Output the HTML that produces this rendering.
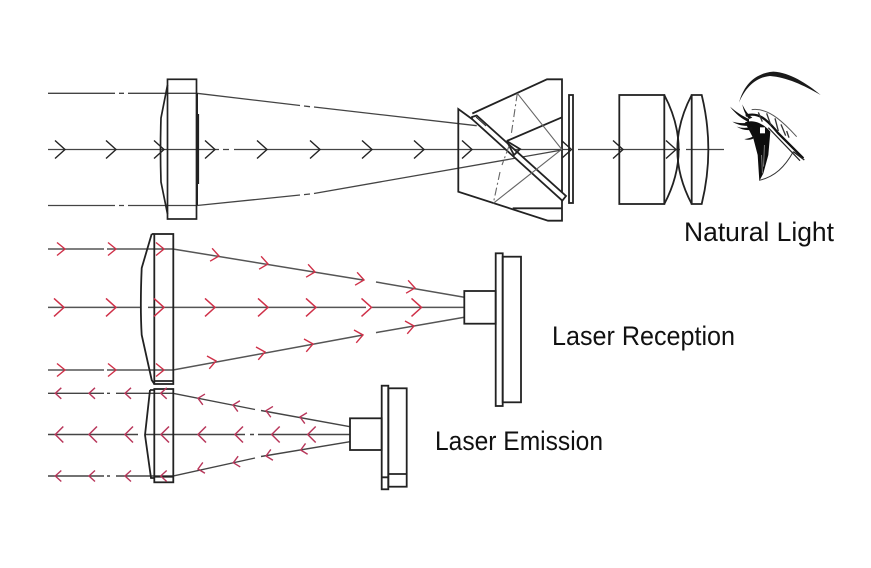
<!DOCTYPE html>
<html><head><meta charset="utf-8"><style>
html,body{margin:0;padding:0;background:#fff;width:871px;height:568px;overflow:hidden}
svg{display:block;filter:blur(0.35px)}
text{font-family:"Liberation Sans",sans-serif;font-size:27px;fill:#111}
</style></head><body>
<svg width="871" height="568" viewBox="0 0 871 568" xmlns="http://www.w3.org/2000/svg" fill="none">
<defs>
<path id="k" d="M-10,-9L0,0L-10,9" stroke="#222" stroke-width="1.4" fill="none"/>
<path id="r" d="M-8,-6.5L0,0L-8,6.5" stroke="#cf3048" stroke-width="1.4" fill="none"/>
<path id="R" d="M-10,-9L0,0L-10,9" stroke="#cf3048" stroke-width="1.5" fill="none"/>
<path id="e" d="M6,-5.5L0,0L6,5.5" stroke="#b8365a" stroke-width="1.4" fill="none"/>
<path id="E" d="M8,-8L0,0L8,8" stroke="#b8365a" stroke-width="1.5" fill="none"/>
</defs>

<!-- Natural light rays -->
<g stroke="#444" stroke-width="1.3">
<path d="M48,93.3H115M119,93.3H124M128,93.3H197L300,105.5M304,106L310,106.7M314,107L476.7,125.7"/>
<path d="M48,205.5H115M119,205.5H124M128,205.5H197L300,195M304,194.6L310,194M314,193.5L562,150"/>
<path d="M48,149.5H219M223,149.5H229M234,149.5H570M578,149.5H680M686,149.5H724"/>
</g>
<use href="#k" transform="translate(65,149.5)"/><use href="#k" transform="translate(116,149.5)"/>
<use href="#k" transform="translate(164,149.5)"/><use href="#k" transform="translate(215,149.5)"/>
<use href="#k" transform="translate(267,149.5)"/><use href="#k" transform="translate(320,149.5)"/>
<use href="#k" transform="translate(372,149.5)"/><use href="#k" transform="translate(424,149.5)"/>
<use href="#k" transform="translate(472,149.5)"/><use href="#k" transform="translate(571.5,149.5)"/>
<use href="#k" transform="translate(623,149.5)"/><use href="#k" transform="translate(676,149.5)"/>

<!-- Objective lens top -->
<g stroke="#222" stroke-width="1.7">
<rect x="167.5" y="79.3" width="29" height="139.7"/>
<path d="M167.5,85L161,118Q160,150 161,182L167.5,214"/>
<path d="M198,114V184" stroke-width="2.2"/>
<path d="M197,93V115M197,184V205" stroke-width="2"/>
</g>

<!-- Prism -->
<g stroke="#222" stroke-width="1.8">
<path d="M472.3,113.5L547,79.3H562V220.7H548L458.3,191.7V109L472,119"/>
<path d="M472,117L476.7,115.5L566,196L562.3,200.7L472,119Z" fill="#fff"/>
<path d="M476,117L486,126" stroke-width="1"/>
<path d="M506.7,141L562,117.3M506.7,141L520,149L514,155L506.7,141"/>
<path d="M512.7,208.3H562"/>
<rect x="569" y="95" width="4" height="108"/>
</g>
<g stroke="#666" stroke-width="1.1">
<path d="M517.3,93.3L561.7,149.3L493.3,203.3"/>
<path d="M517.3,93.3L511,136M509,146L502,165M500,172L493.3,203.3" stroke-dasharray="8 3 2 3"/>
</g>

<!-- Eyepiece lenses -->
<g stroke="#222" stroke-width="1.8">
<rect x="619.3" y="95" width="45" height="109"/>
<path d="M664.3,95Q693,149.5 664.3,204"/>
<path d="M691.7,95Q663,149.5 691.7,204"/>
<path d="M691.7,95H701.7Q715,149.5 701.7,204H691.7Z"/>
</g>

<!-- Eyebrow -->
<g transform="translate(600,60) scale(0.3333)">
<path d="M417,128C430,80 460,40 520,35C570,38 620,70 662,105C610,75 560,52 510,48C465,52 435,85 417,128Z" fill="#1a1a1a"/>
</g>
<!-- Eye -->
<g transform="translate(725,95) scale(0.3333)">
<path d="M60,82C85,72 115,85 136,110L130,180L115,235L103,258L98,180L85,130Z" fill="#0d0d0d"/>
<rect x="105" y="97" width="15" height="18" fill="#fff"/>
<path d="M118,150L116,215M110,180L112,235" stroke="#aaa" stroke-width="2"/>
<path d="M15,35C35,52 50,62 72,72L72,82C50,72 30,55 15,35Z" fill="#111"/>
<path d="M22,80C40,85 55,86 72,82L72,92C55,94 38,90 22,80Z" fill="#111"/>
<path d="M35,95C50,100 65,100 82,95L82,104C65,108 50,104 35,95Z" fill="#111"/>
<path d="M58,132C70,131 80,128 90,120L90,128C80,135 68,136 58,132Z" fill="#111"/>
<path d="M52,28C60,45 68,58 82,68L72,72C62,60 55,45 52,28Z" fill="#111"/>
<path d="M62,62C100,50 125,72 160,115L235,190" stroke="#111" stroke-width="7"/>
<path d="M130,98L172,142L225,197" stroke="#222" stroke-width="3.5"/>
<path d="M80,44C125,38 165,70 215,125" stroke="#555" stroke-width="3"/>
<path d="M100,52L112,80M125,55L138,92M150,70L160,108M168,88L182,122M185,108L192,128" stroke="#333" stroke-width="4"/>
<path d="M103,256C150,245 180,215 205,170" stroke="#333" stroke-width="3"/>
<path d="M205,170L238,195" stroke="#222" stroke-width="4"/>
</g>

<!-- Laser reception -->
<g stroke="#555" stroke-width="1.5">
<path d="M48,249H104M107,249H173L363,280M376,282L464.3,297.3"/>
<path d="M48,307.4H140M148,307.4H366M372,307.4H464"/>
<path d="M48,370H104M107,370H173L363,335M376,332.6L464.3,317.3"/>
</g>
<g stroke="#222" stroke-width="1.8">
<rect x="154.3" y="234" width="19" height="150"/>
<path d="M154.3,381H173.3"/>
<path d="M151.7,234L141.7,268Q140,307 141.7,335L151.7,380L154.3,384"/>
<path d="M151.7,234H154.3"/>
<rect x="464.3" y="291" width="31.4" height="32.7"/>
<rect x="495.7" y="253.3" width="7" height="152.7"/>
<rect x="502.7" y="256.7" width="18.3" height="145.6"/>
</g>
<use href="#r" transform="translate(65,249)"/><use href="#r" transform="translate(116,249)"/><use href="#r" transform="translate(164,249)"/>
<use href="#r" transform="translate(219,256) rotate(9)"/><use href="#r" transform="translate(268,264) rotate(9)"/><use href="#r" transform="translate(315,272) rotate(9)"/>
<use href="#r" transform="translate(364,280) rotate(9)"/><use href="#r" transform="translate(415,288) rotate(9)"/>
<use href="#R" transform="translate(64,307.4)"/><use href="#R" transform="translate(116,307.4)"/><use href="#R" transform="translate(164,307.4)"/>
<use href="#R" transform="translate(215,307.4)"/><use href="#R" transform="translate(268,307.4)"/><use href="#R" transform="translate(316,307.4)"/>
<use href="#R" transform="translate(371.5,307.4)"/><use href="#R" transform="translate(421.5,307.4)"/>
<use href="#r" transform="translate(65,370)"/><use href="#r" transform="translate(116,370)"/><use href="#r" transform="translate(164,370)"/>
<use href="#r" transform="translate(216,361) rotate(-10)"/><use href="#r" transform="translate(265,352) rotate(-10)"/><use href="#r" transform="translate(313,344) rotate(-10)"/>
<use href="#r" transform="translate(363,335) rotate(-10)"/><use href="#r" transform="translate(414,326) rotate(-10)"/>

<!-- Laser emission -->
<g stroke="#444" stroke-width="1.4">
<path d="M48,393.3H104M107,393.3H110M116,393.3H173L255,409.5M261,410.5L350,426.7"/>
<path d="M48,434.5H138M145,434.5H245M250,434.5H254M258,434.5H350"/>
<path d="M48,476H104M107,476H110M116,476H173L255,458M261,456.5L350,441.7"/>
</g>
<g stroke="#222" stroke-width="1.8">
<rect x="154.3" y="389" width="19" height="93.3"/>
<path d="M154.3,476.7H173.3"/>
<path d="M150,390H154.3M150,390L145,435L151,478H154.3"/>
<rect x="350" y="418.3" width="31.7" height="31.7"/>
<rect x="381.7" y="385.7" width="6.6" height="103.6"/>
<rect x="388.3" y="388.3" width="18.4" height="98.4"/>
<path d="M388.3,474H406.7M381.7,477.3H388.3"/>
</g>
<use href="#e" transform="translate(55.3,393.3)"/><use href="#e" transform="translate(89,393.3)"/><use href="#e" transform="translate(125,393.3)"/><use href="#e" transform="translate(160.7,393.3)"/>
<use href="#e" transform="translate(198,398.3) rotate(11)"/><use href="#e" transform="translate(233,405) rotate(11)"/><use href="#e" transform="translate(266,410.7) rotate(11)"/><use href="#e" transform="translate(300,417) rotate(11)"/>
<use href="#E" transform="translate(55.3,434.5)"/><use href="#E" transform="translate(89,434.5)"/><use href="#E" transform="translate(125,434.5)"/><use href="#E" transform="translate(161,434.5)"/>
<use href="#E" transform="translate(198,434.5)"/><use href="#E" transform="translate(235,434.5)"/><use href="#E" transform="translate(271.7,434.5)"/><use href="#E" transform="translate(307.7,434.5)"/>
<use href="#e" transform="translate(55.3,476)"/><use href="#e" transform="translate(89,476)"/><use href="#e" transform="translate(125,476)"/><use href="#e" transform="translate(160.7,476)"/>
<use href="#e" transform="translate(198,469) rotate(-11)"/><use href="#e" transform="translate(233.3,462.7) rotate(-11)"/><use href="#e" transform="translate(266,456) rotate(-11)"/><use href="#e" transform="translate(300.7,450) rotate(-11)"/>

<!-- Labels -->
<text x="684" y="241" textLength="150" lengthAdjust="spacingAndGlyphs">Natural Light</text>
<text x="552" y="345" textLength="183" lengthAdjust="spacingAndGlyphs">Laser Reception</text>
<text x="435" y="450" textLength="168" lengthAdjust="spacingAndGlyphs">Laser Emission</text>
</svg>
</body></html>
